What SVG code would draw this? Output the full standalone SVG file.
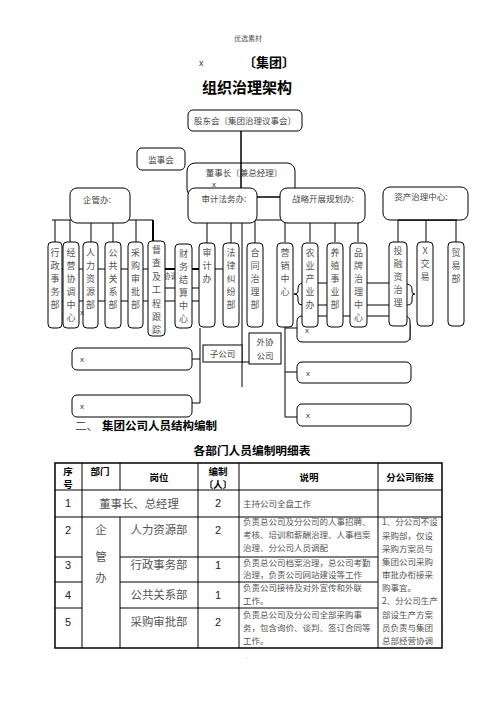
<svg xmlns="http://www.w3.org/2000/svg" width="496" height="702" viewBox="0 0 496 702">
<style>
.bx{fill:#fff;stroke:#000;stroke-width:1}
.nb{fill:none;stroke:#000;stroke-width:1}
.ln{fill:none;stroke:#000;stroke-width:1}
.tk{fill:none;stroke:#000;stroke-width:2}
.t{font-family:"Noto Sans CJK SC",sans-serif;font-size:8.5px;fill:#444}
.v{font-family:"Noto Sans CJK SC",sans-serif;font-size:9px;fill:#555;text-anchor:middle}
.g{font-family:"Noto Sans CJK SC",sans-serif;fill:#555}
.b{font-family:"Noto Sans CJK SC",sans-serif;font-weight:bold;fill:#000}
.n{font-family:"Liberation Sans",sans-serif;font-size:11px;fill:#222;text-anchor:middle}
.m{text-anchor:middle}
.d{font-family:"Noto Sans CJK SC",sans-serif;font-size:8.5px;fill:#555}
.tb{fill:none;stroke:#000;stroke-width:1.5}
.tl{stroke:#000;stroke-width:1}
</style>
<rect width="496" height="702" fill="#fff"/>
<g id="header">
<text x="248" y="41" class="g m" font-size="7" fill="#888">优选素材</text>
<text x="199" y="66" font-family="Liberation Sans,sans-serif" font-size="9" fill="#333">x</text>
<text x="269" y="67" class="b m" font-size="13">〔集团〕</text>
<text x="247" y="93" class="b m" font-size="15">组织治理架构</text>
</g>
<g id="connectors">
<line class="ln" x1="241" y1="131" x2="241" y2="188"/>
<line class="ln" x1="257" y1="197" x2="280" y2="197"/>
<path class="ln" d="M52 220H153M55 220V242M70 220V242M91 220V242M113 220V242M136 220V242"/>
<path class="tk" d="M153 220V241"/>
<path class="ln" d="M207 220H287M207 220V243M231 220V243M255 220V243"/>
<path class="ln" d="M285 220H358M285 220V242M310 220V242M335 220V242M358 220V242"/>
<path class="ln" d="M398 220H457M398 220V242M426 220V242M456 220V242"/>
<path class="ln" d="M242 223V387"/>
<path class="ln" d="M57 269H223M57 301H199M163 288H199"/>
<path class="tk" d="M163 269H175M190 269H199"/>
<path class="ln" d="M318 283H327M318 305H327M367 283H389M367 305H389M343 319H389"/>
<path class="ln" d="M302 283Q298 284 298 288V292Q298 294 294 294Q298 294 298 297V301Q298 305 302 305"/>
<path class="ln" d="M407 284Q412 285 412 289V292Q412 294 415 294Q412 294 412 297V301Q412 305 407 305"/>
<path class="ln" d="M407 320Q411 322 410 330V340"/>
<path class="ln" d="M200 328V403M192 359H200M192 403H200"/>
<path class="ln" d="M242 362H249"/>
<path class="ln" d="M285 327V417M285 328H297M285 372H297M285 417H297"/>
</g>
<g id="n-gudong"><rect class="bx" x="188" y="110" width="114" height="21" rx="5"/><text x="245" y="123.5" class="t m">股东会〔集团治理议事会〕</text></g>
<g id="n-jianshi"><rect class="bx" x="137" y="148" width="48" height="22" rx="5"/><text x="161" y="162.5" class="t m">监事会</text></g>
<g id="n-dongshi"><rect class="nb" x="187" y="163" width="108" height="34" rx="8"/><text x="244" y="176" class="t m">董事长〔兼总经理〕</text><text x="214" y="187" font-family="Liberation Sans,sans-serif" font-size="8" fill="#333" text-anchor="middle">x</text></g>
<line class="ln" x1="241" y1="131" x2="241" y2="188"/>
<g id="n-qiguan"><rect class="bx" x="70" y="188" width="60" height="35" rx="7"/><text x="97" y="203" class="t m">企管办:</text></g>
<g id="n-shenji"><rect class="bx" x="188" y="188" width="69" height="35" rx="7"/><text x="224" y="202" class="t m">审计法务办:</text></g>
<g id="n-zhanlue"><rect class="bx" x="280" y="188" width="85" height="35" rx="7"/><text x="323" y="202" class="t m">战略开展规划办:</text></g>
<g id="n-zichan"><rect class="bx" x="383" y="187" width="85" height="33" rx="7"/><text x="421" y="200" class="t m">资产治理中心:</text><line class="ln" x1="398" y1="220" x2="457" y2="220"/></g>
<g id="n-x1"><rect class="bx" x="297" y="316" width="113" height="26" rx="5"/><text x="305" y="333" font-family="Liberation Sans,sans-serif" font-size="8" fill="#333">x</text></g>
<text x="163" y="279" class="g" font-size="7.5">协调</text>
<g id="n-xingzheng"><rect class="bx" x="48" y="242" width="14" height="86" rx="4"/><text class="v"><tspan x="55" y="256">行</tspan><tspan x="55" y="269">政</tspan><tspan x="55" y="282">事</tspan><tspan x="55" y="295">务</tspan><tspan x="55" y="308">部</tspan></text></g>
<g id="n-jingying"><rect class="bx" x="63" y="242" width="16" height="86" rx="4"/><text class="v"><tspan x="71" y="256">经</tspan><tspan x="71" y="269">营</tspan><tspan x="71" y="282">协</tspan><tspan x="71" y="295">调</tspan><tspan x="71" y="308">中</tspan><tspan x="71" y="321">心</tspan></text></g>
<g id="n-renli"><rect class="bx" x="83" y="242" width="15" height="86" rx="4"/><text class="v"><tspan x="90.5" y="256">人</tspan><tspan x="90.5" y="269">力</tspan><tspan x="90.5" y="282">资</tspan><tspan x="90.5" y="295">源</tspan><tspan x="90.5" y="308">部</tspan></text></g>
<g id="n-gonggong"><rect class="bx" x="105" y="242" width="16" height="86" rx="4"/><text class="v"><tspan x="113" y="256">公</tspan><tspan x="113" y="269">共</tspan><tspan x="113" y="282">关</tspan><tspan x="113" y="295">系</tspan><tspan x="113" y="308">部</tspan></text></g>
<g id="n-caigou"><rect class="bx" x="128" y="242" width="15" height="86" rx="4"/><text class="v"><tspan x="135.5" y="256">采</tspan><tspan x="135.5" y="269">购</tspan><tspan x="135.5" y="282">审</tspan><tspan x="135.5" y="295">批</tspan><tspan x="135.5" y="308">部</tspan></text></g>
<g id="n-ducha"><rect class="bx" x="148" y="241" width="17" height="95" rx="4"/><text class="v"><tspan x="156.5" y="253">督</tspan><tspan x="156.5" y="266">查</tspan><tspan x="156.5" y="280">及</tspan><tspan x="156.5" y="293">工</tspan><tspan x="156.5" y="307">程</tspan><tspan x="156.5" y="320">跟</tspan><tspan x="156.5" y="333">踪</tspan></text></g>
<g id="n-caiwu"><rect class="bx" x="175" y="244" width="17" height="84" rx="4"/><text class="v"><tspan x="183.5" y="257">财</tspan><tspan x="183.5" y="270">务</tspan><tspan x="183.5" y="283">结</tspan><tspan x="183.5" y="296">算</tspan><tspan x="183.5" y="309">中</tspan><tspan x="183.5" y="322">心</tspan></text></g>
<g id="n-shenjiban"><rect class="bx" x="199" y="243" width="16" height="84" rx="4"/><text class="v"><tspan x="207" y="256">审</tspan><tspan x="207" y="269">计</tspan><tspan x="207" y="282">办</tspan></text></g>
<g id="n-falv"><rect class="bx" x="223" y="243" width="16" height="84" rx="4"/><text class="v"><tspan x="231" y="256">法</tspan><tspan x="231" y="269">律</tspan><tspan x="231" y="282">纠</tspan><tspan x="231" y="295">纷</tspan><tspan x="231" y="308">部</tspan></text></g>
<g id="n-hetong"><rect class="bx" x="247" y="243" width="16" height="84" rx="4"/><text class="v"><tspan x="255" y="256">合</tspan><tspan x="255" y="269">同</tspan><tspan x="255" y="282">治</tspan><tspan x="255" y="295">理</tspan><tspan x="255" y="308">部</tspan></text></g>
<g id="n-yingxiao"><rect class="bx" x="277" y="243" width="16" height="84" rx="4"/><text class="v"><tspan x="285" y="256">营</tspan><tspan x="285" y="269">销</tspan><tspan x="285" y="282">中</tspan><tspan x="285" y="295">心</tspan></text></g>
<g id="n-nongye"><rect class="bx" x="302" y="243" width="16" height="84" rx="4"/><text class="v"><tspan x="310" y="256">农</tspan><tspan x="310" y="269">业</tspan><tspan x="310" y="282">产</tspan><tspan x="310" y="295">业</tspan><tspan x="310" y="308">办</tspan></text></g>
<g id="n-yangzhi"><rect class="bx" x="327" y="243" width="16" height="84" rx="4"/><text class="v"><tspan x="335" y="256">养</tspan><tspan x="335" y="269">殖</tspan><tspan x="335" y="282">事</tspan><tspan x="335" y="295">业</tspan><tspan x="335" y="308">部</tspan></text></g>
<g id="n-pinpai"><rect class="bx" x="350" y="243" width="17" height="84" rx="4"/><text class="v"><tspan x="358.5" y="256">品</tspan><tspan x="358.5" y="269">牌</tspan><tspan x="358.5" y="282">治</tspan><tspan x="358.5" y="295">理</tspan><tspan x="358.5" y="308">中</tspan><tspan x="358.5" y="321">心</tspan></text></g>
<g id="n-touzi"><rect class="bx" x="389" y="242" width="18" height="84" rx="4"/><text class="v"><tspan x="398" y="254">投</tspan><tspan x="398" y="267">融</tspan><tspan x="398" y="280">资</tspan><tspan x="398" y="293">治</tspan><tspan x="398" y="306">理</tspan></text></g>
<g id="n-jiaoyi"><rect class="bx" x="417" y="242" width="16" height="84" rx="4"/><text class="v"><tspan x="425" y="254">X</tspan><tspan x="425" y="267">交</tspan><tspan x="425" y="280">易</tspan></text></g>
<g id="n-maoyi"><rect class="bx" x="448" y="242" width="16" height="84" rx="4"/><text class="v"><tspan x="456" y="256">贸</tspan><tspan x="456" y="269">易</tspan><tspan x="456" y="282">部</tspan></text></g>
<text x="80" y="315" font-family="Liberation Sans,sans-serif" font-size="8" fill="#333">x</text>
<g id="n-zigongsi"><rect class="bx" x="203" y="345" width="39" height="17" rx="0"/><text x="222.5" y="357" class="t m" fill="#777">子公司</text></g>
<g id="n-waixie"><rect class="bx" x="249" y="333" width="32" height="31" rx="0"/><text class="t m" fill="#777"><tspan x="265" y="345">外协</tspan><tspan x="265" y="359">公司</tspan></text></g>
<g id="n-xl1"><rect class="bx" x="72" y="348" width="120" height="22" rx="5"/><text x="80" y="362" font-family="Liberation Sans,sans-serif" font-size="8" fill="#333">x</text></g>
<g id="n-xl2"><rect class="bx" x="72" y="395" width="120" height="22" rx="5"/><text x="80" y="409" font-family="Liberation Sans,sans-serif" font-size="8" fill="#333">x</text></g>
<g id="n-x2"><rect class="bx" x="297" y="362" width="114" height="21" rx="5"/><text x="306" y="376" font-family="Liberation Sans,sans-serif" font-size="8" fill="#333">x</text></g>
<g id="n-x3"><rect class="bx" x="297" y="404" width="114" height="22" rx="5"/><text x="306" y="418" font-family="Liberation Sans,sans-serif" font-size="8" fill="#333">x</text></g>
<g id="section">
<text x="75" y="430" class="g" font-size="11.5" fill="#666">二、</text>
<text x="102" y="430" class="b" font-size="11.5">集团公司人员结构编制</text>
<text x="252" y="455" class="b m" font-size="11.7">各部门人员编制明细表</text>
</g>
<g id="table">
<rect class="tb" x="55" y="463" width="387" height="185"/>
<path class="tl" d="M55 490H442M55 517H442M55 557H82M120 557H378M55 582H82M120 582H378M55 608H82M120 608H378"/>
<path class="tl" d="M82 463V648M120 463V490M120 517V648M198 463V648M239 463V648M378 463V648"/>
<g class="b" font-size="9.5">
<text x="68" y="474.5" class="m">序</text><text x="68" y="487.5" class="m">号</text>
<text x="100" y="475" class="m">部门</text>
<text x="159" y="481" class="m">岗位</text>
<text x="218" y="474.5" class="m">编制</text><text x="218" y="487.5" class="m">〔人〕</text>
<text x="309" y="481" class="m">说明</text>
<text x="410" y="481" class="m">分公司衔接</text>
</g>
<g>
<text x="68" y="507" class="n">1</text><text x="68" y="534" class="n">2</text><text x="68" y="569" class="n">3</text><text x="68" y="599" class="n">4</text><text x="68" y="626" class="n">5</text>
<text x="218" y="507" class="n">2</text><text x="218" y="534" class="n">2</text><text x="218" y="569" class="n">1</text><text x="218" y="599" class="n">1</text><text x="218" y="626" class="n">2</text>
</g>
<g class="g" font-size="11.4" text-anchor="middle" fill="#444">
<text x="139" y="508">董事长、总经理</text>
<text x="101" y="534">企</text><text x="101" y="561">管</text><text x="101" y="582">办</text>
<text x="159" y="534">人力资源部</text>
<text x="159" y="569">行政事务部</text>
<text x="159" y="599">公共关系部</text>
<text x="159" y="626">采购审批部</text>
</g>
<g class="d">
<text x="243" y="507">主持公司全盘工作</text>
<text x="243" y="525">负责总公司及分公司的人事招聘、</text>
<text x="243" y="538">考核、培训和薪酬治理、人事档案</text>
<text x="243" y="551">治理、分公司人员调配</text>
<text x="243" y="566">负责总公司档案治理，总公司考勤</text>
<text x="243" y="578">治理，负责公司网站建设等工作</text>
<text x="243" y="591">负责公司接待及对外宣传和外联</text>
<text x="243" y="604">工作。</text>
<text x="243" y="618">负责总公司及分公司全部采购事</text>
<text x="243" y="631">务，包含询价、谈判、签订合同等</text>
<text x="243" y="644">工作。</text>
<text x="382" y="525">1、分公司不设</text>
<text x="382" y="539">采购部，仅设</text>
<text x="382" y="552">采购方案员与</text>
<text x="382" y="565">集团公司采购</text>
<text x="382" y="578">审批办衔接采</text>
<text x="382" y="591">购事宜。</text>
<text x="382" y="604">2、分公司生产</text>
<text x="382" y="618">部设生产方案</text>
<text x="382" y="631">员负责与集团</text>
<text x="382" y="644">总部经营协调</text>
</g>
</g>
<text x="247" y="659" font-family="Liberation Sans,sans-serif" font-size="6" fill="#999" text-anchor="middle">.</text>
</svg>
